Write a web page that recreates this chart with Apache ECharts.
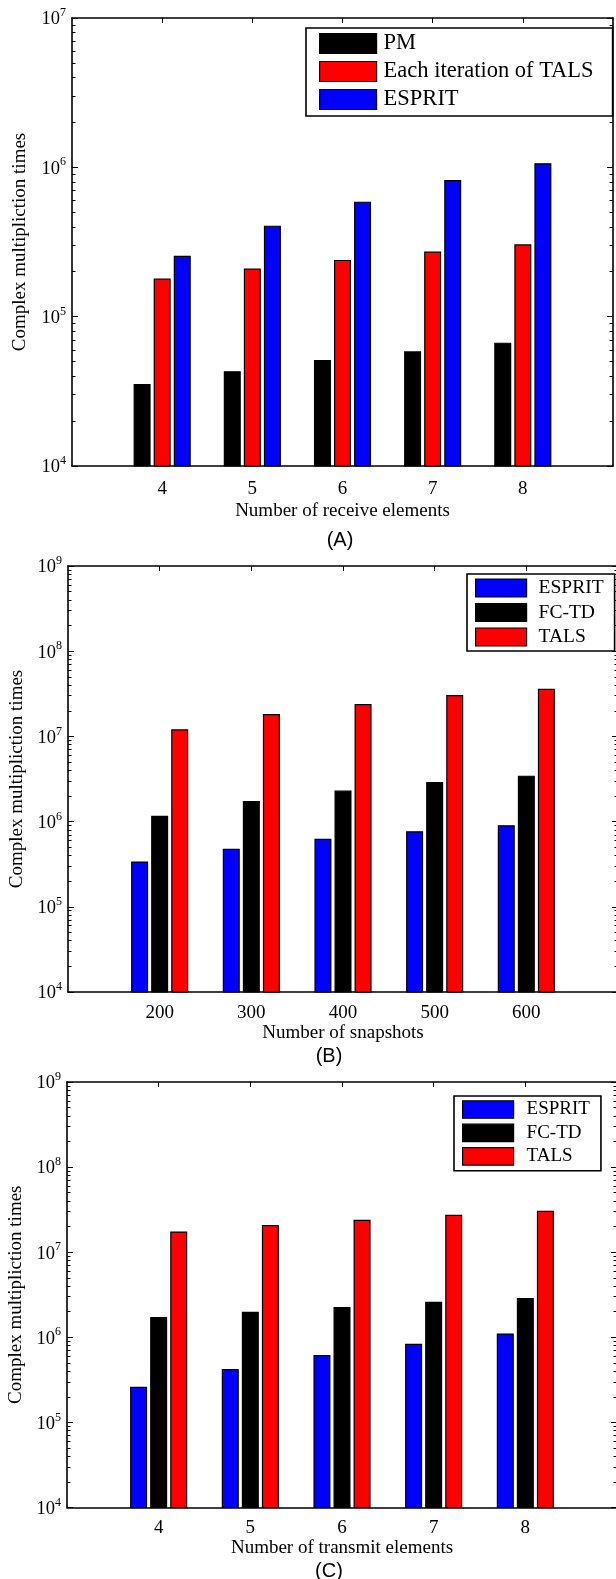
<!DOCTYPE html>
<html>
<head>
<meta charset="utf-8">
<script src="https://cdn.jsdelivr.net/npm/echarts@6/dist/echarts.min.js"></script>
<style>
  html, body { margin: 0; padding: 0; background: #fff; }
  #chart { width: 616px; height: 1579px; }
</style>
</head>
<body>
<div id="chart"></div>
<script>
const SERIF = '"Liberation Serif", "Times New Roman", serif';
const SANS = '"Liberation Sans", Arial, sans-serif';

// (A) cost versus number of receive elements
const receiveElements = ['4', '5', '6', '7', '8'];
const pmA       = [3.54e4, 4.31e4, 5.13e4, 5.86e4, 6.70e4];
const talsIterA = [1.80e5, 2.10e5, 2.40e5, 2.73e5, 3.05e5];
const espritA   = [2.56e5, 4.07e5, 5.89e5, 8.23e5, 1.065e6];

// (B) cost versus number of snapshots
const snapshots = ['200', '300', '400', '500', '600'];
const espritB = [3.40e5, 4.79e5, 6.27e5, 7.71e5, 9.07e5];
const fctdB   = [1.17e6, 1.75e6, 2.31e6, 2.92e6, 3.46e6];
const talsB   = [1.21e7, 1.83e7, 2.40e7, 3.06e7, 3.62e7];

// (C) cost versus number of transmit elements
const transmitElements = ['4', '5', '6', '7', '8'];
const espritC = [2.62e5, 4.24e5, 6.19e5, 8.40e5, 1.11e6];
const fctdC   = [1.73e6, 1.99e6, 2.27e6, 2.62e6, 2.90e6];
const talsC   = [1.75e7, 2.09e7, 2.40e7, 2.75e7, 3.06e7];

// y tick labels (decades)
const decadesA  = [1e4, 1e5, 1e6, 1e7];
const decadesBC = [1e4, 1e5, 1e6, 1e7, 1e8, 1e9];

const BLACK = '#000000', RED = '#ff0000', BLUE = '#0000ff';

function minorValues(decades) {
  const out = [];
  for (let i = 0; i < decades.length - 1; i++) {
    for (let k = 2; k <= 9; k++) out.push(decades[i] * k);
  }
  return out;
}

const panels = [
  {
    cats: receiveElements, pads: ['3', '9'],
    xName: 'Number of receive elements', decades: decadesA,
    series: [
      { name: 'PM', data: pmA, color: BLACK },
      { name: 'Each iteration of TALS', data: talsIterA, color: RED },
      { name: 'ESPRIT', data: espritA, color: BLUE }
    ],
    grid: { left: 72, top: 18, width: 541, height: 448 },
    labelMargin: 14, xNameGap: 36, yNameGap: 42,
    legend: { left: 306, top: 28, padding: [4, 19, 5, 13], itemWidth: 57, itemHeight: 20, itemGap: 5, fontSize: 22.5, textGap: 2 },
    tag: { text: '(A)', x: 340, y: 540 }
  },
  {
    cats: snapshots, pads: ['100', '700'],
    xName: 'Number of snapshots', decades: decadesBC,
    series: [
      { name: 'ESPRIT', data: espritB, color: BLUE },
      { name: 'FC-TD', data: fctdB, color: BLACK },
      { name: 'TALS', data: talsB, color: RED }
    ],
    grid: { left: 68, top: 566, width: 550, height: 426 },
    labelMargin: 12, xNameGap: 30, yNameGap: 38,
    legend: { left: 467, top: 574, padding: [4, 11, 4, 8], itemWidth: 51, itemHeight: 18, itemGap: 4.5, fontSize: 19.5, textGap: 7 },
    tag: { text: '(B)', x: 329, y: 1056 }
  },
  {
    cats: transmitElements, pads: ['3', '9'],
    xName: 'Number of transmit elements', decades: decadesBC,
    series: [
      { name: 'ESPRIT', data: espritC, color: BLUE },
      { name: 'FC-TD', data: fctdC, color: BLACK },
      { name: 'TALS', data: talsC, color: RED }
    ],
    grid: { left: 67, top: 1082, width: 550, height: 425.5 },
    labelMargin: 11, xNameGap: 26, yNameGap: 38,
    legend: { left: 454, top: 1096, padding: [4, 11, 5, 8], itemWidth: 51, itemHeight: 17.5, itemGap: 4.4, fontSize: 19, textGap: 8 },
    tag: { text: '(C)', x: 329, y: 1571 }
  }
];

const option = {
  animation: false,
  backgroundColor: '#ffffff',
  grid: [], xAxis: [], yAxis: [], series: [], legend: [], graphic: []
};

const lineStyle = { color: '#000', width: 1.6 };

panels.forEach((p, gi) => {
  option.grid.push(Object.assign({ containLabel: false, outerBoundsMode: 'none' }, p.grid));

  const axisCats = [p.pads[0]].concat(p.cats, [p.pads[1]]);
  const n = axisCats.length;
  const inner = (i) => i > 0 && i < n - 1;

  const xBase = {
    type: 'category', gridIndex: gi, data: axisCats, boundaryGap: false,
    axisLine: { show: true, onZero: false, lineStyle },
    axisTick: { show: true, inside: true, length: 5, interval: inner, lineStyle: { color: '#000', width: 1 } },
    splitLine: { show: false }
  };
  option.xAxis.push(Object.assign({}, xBase, {
    position: 'bottom',
    name: p.xName, nameLocation: 'middle', nameGap: p.xNameGap,
    nameTextStyle: { fontFamily: SERIF, fontSize: 19, color: '#000' },
    axisLabel: {
      show: true, interval: 0, margin: p.labelMargin,
      fontFamily: SERIF, fontSize: 19, color: '#000',
      formatter: (v, i) => (inner(i) ? v : '')
    }
  }));
  const bottomIndex = option.xAxis.length - 1;
  option.xAxis.push(Object.assign({}, xBase, { position: 'top', axisLabel: { show: false } }));

  const yMin = p.decades[0], yMax = p.decades[p.decades.length - 1];
  const minors = minorValues(p.decades);
  const yBase = {
    type: 'log', logBase: 10, gridIndex: gi, min: yMin, max: yMax,
    splitLine: { show: false }, axisLabel: { show: false }
  };
  const mainY = option.yAxis.length;
  option.yAxis.push(Object.assign({}, yBase, {
    position: 'left',
    name: 'Complex multipliction times', nameLocation: 'middle', nameGap: p.yNameGap,
    nameTextStyle: { fontFamily: SERIF, fontSize: 19, color: '#000' },
    axisLine: { show: true, lineStyle },
    axisTick: { show: true, inside: true, length: 6, customValues: p.decades, lineStyle: { color: '#000', width: 1 } },
    axisLabel: {
      show: true, margin: 6, customValues: p.decades,
      formatter: (v) => '{b|10}{e|' + Math.round(Math.log10(v)) + '}',
      rich: {
        b: { fontFamily: SERIF, fontSize: 18.5, color: '#000', lineHeight: 22, verticalAlign: 'bottom' },
        e: { fontFamily: SERIF, fontSize: 12, color: '#000', verticalAlign: 'top' }
      }
    }
  }));
  option.yAxis.push(Object.assign({}, yBase, {
    position: 'left',
    axisLine: { show: false },
    axisTick: { show: true, inside: true, length: 3.5, customValues: minors, lineStyle: { color: '#000', width: 1 } }
  }));
  option.yAxis.push(Object.assign({}, yBase, {
    position: 'right',
    axisLine: { show: true, lineStyle },
    axisTick: { show: true, inside: true, length: 6, customValues: p.decades, lineStyle: { color: '#000', width: 1 } }
  }));
  option.yAxis.push(Object.assign({}, yBase, {
    position: 'right',
    axisLine: { show: false },
    axisTick: { show: true, inside: true, length: 3.5, customValues: minors, lineStyle: { color: '#000', width: 1 } }
  }));

  p.series.forEach((s) => {
    option.series.push({
      type: 'bar', name: s.name,
      xAxisIndex: bottomIndex, yAxisIndex: mainY,
      data: [null].concat(s.data, [null]),
      barWidth: 17, barGap: '18%',
      itemStyle: { color: s.color, borderColor: '#000', borderWidth: 1.2 },
      emphasis: { disabled: true }
    });
  });

  const L = p.legend;
  option.legend.push({
    orient: 'vertical', left: L.left, top: L.top, padding: L.padding,
    data: p.series.map((s) => s.name),
    icon: 'rect', itemWidth: L.itemWidth, itemHeight: L.itemHeight, itemGap: L.itemGap,
    itemStyle: { borderColor: '#000', borderWidth: 1.2 },
    backgroundColor: '#fff', borderColor: '#000', borderWidth: 1.6, borderRadius: 0,
    selectedMode: false,
    textStyle: { fontFamily: SERIF, fontSize: L.fontSize, color: '#000', padding: [0, 0, 0, L.textGap] }
  });

  option.graphic.push({
    type: 'text', x: p.tag.x, y: p.tag.y,
    style: { text: p.tag.text, font: '20px ' + SANS, fill: '#000', align: 'center', verticalAlign: 'middle', textAlign: 'center', textVerticalAlign: 'middle' }
  });
});

const chart = echarts.init(document.getElementById('chart'), null, { renderer: 'canvas' });
chart.setOption(option);
</script>
</body>
</html>
